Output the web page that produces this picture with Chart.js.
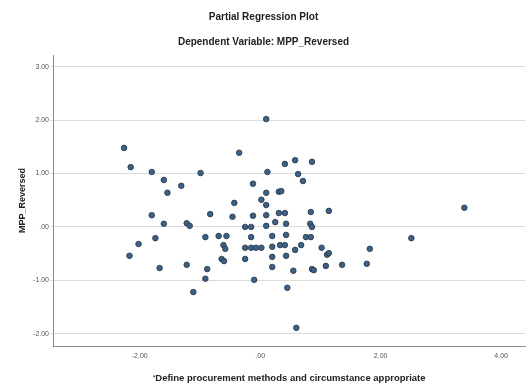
<!DOCTYPE html>
<html>
<head>
<meta charset="utf-8">
<script src="https://cdn.jsdelivr.net/npm/chart.js@4.4.1/dist/chart.umd.min.js"></script>
<style>
  html, body { margin: 0; padding: 0; background: #fff; }
  #wrap { width: 530px; height: 392px; position: relative; }
</style>
</head>
<body>
<div id="wrap"><canvas id="prp-chart"></canvas></div>
<script>
// residuals of the predictor (x) and of MPP_Reversed (y)
const xValues = [
    0.10, -2.26, -0.35, 0.58, 0.41, 0.86, -2.15, -1.80, -0.99, 0.12,
    0.63, -1.60, 0.71, -1.31, -0.12, -1.54, 0.10, 0.31, 0.35, 0.02,
    -0.43, 0.10, -1.80, -0.83, -0.46, -0.12, 0.10, 0.31, 0.41, 0.84,
    1.14, 3.39, -1.60, -1.22, -1.17, -0.25, -0.15, 0.10, 0.25, 0.43,
    0.83, 0.86, -1.74, -0.91, -0.69, -0.56, -0.15, 0.20, 0.43, 0.76,
    0.84, 2.51, -2.02, -0.61, -0.58, -0.25, -0.15, -0.07, 0.02, 0.20,
    0.33, 0.41, 0.58, 0.68, 1.02, 1.11, 1.14, 1.82, -2.17, -0.64,
    -0.60, -0.25, 0.20, 0.43, -1.67, -1.22, -0.88, 0.20, 0.55, 0.86,
    0.89, 1.09, 1.36, 1.77, -0.91, -0.10, 0.45, -1.11, 0.60
];
const yValues = [
    2.02, 1.48, 1.39, 1.25, 1.18, 1.22, 1.12, 1.03, 1.01, 1.03,
    0.99, 0.88, 0.86, 0.77, 0.81, 0.64, 0.64, 0.66, 0.67, 0.51,
    0.45, 0.41, 0.22, 0.24, 0.19, 0.21, 0.22, 0.26, 0.26, 0.28,
    0.30, 0.36, 0.06, 0.07, 0.02, 0.00, 0.00, 0.02, 0.09, 0.06,
    0.06, 0.00, -0.21, -0.19, -0.17, -0.17, -0.19, -0.17, -0.15, -0.19,
    -0.19, -0.21, -0.32, -0.34, -0.41, -0.39, -0.39, -0.39, -0.39, -0.37,
    -0.34, -0.34, -0.43, -0.34, -0.39, -0.52, -0.49, -0.41, -0.54, -0.60,
    -0.64, -0.60, -0.56, -0.54, -0.77, -0.71, -0.79, -0.75, -0.82, -0.79,
    -0.81, -0.73, -0.71, -0.69, -0.97, -0.99, -1.14, -1.22, -1.89
];
const xTicks = [-2, 0, 2, 4];
const yTicks = [-2, -1, 0, 1, 2, 3];

const chartTitle = 'Partial Regression Plot';
const chartSubtitle = 'Dependent Variable: MPP_Reversed';
const xTitle = '\u2018Define procurement methods and circumstance appropriate';
const yTitle = 'MPP_Reversed';

const fontFamily = '"Liberation Sans", Arial, sans-serif';

// SPSS style number labels: .00, 2.00, -1.00
function spssLabel(v) {
    return v.toFixed(2).replace(/^(-?)0\./, '$1.');
}

let points = [];
for (let i = 0; i < xValues.length; i++) {
    points.push({x: xValues[i], y: yValues[i]});
}

new Chart(document.querySelector('#prp-chart'), {
    type: 'scatter',
    data: {
        datasets: [{
            data: points,
            backgroundColor: '#3b6189',
            borderColor: '#29333f',
            borderWidth: 0.8,
            pointRadius: 2.8,
        }]
    },
    options: {
        responsive: true,
        maintainAspectRatio: false,
        animation: false,
        layout: {padding: {left: 0, right: 3, top: 0, bottom: 0}},
        plugins: {
            legend: {display: false},
            tooltip: {enabled: false},
            title: {
                display: true,
                text: chartTitle,
                color: '#222',
                font: {family: fontFamily, size: 10, weight: 'bold', lineHeight: 1.2},
                padding: {top: 11, bottom: 7},
            },
            subtitle: {
                display: true,
                text: chartSubtitle,
                color: '#222',
                font: {family: fontFamily, size: 10, weight: 'bold', lineHeight: 1.2},
                padding: {top: 6, bottom: 7},
            },
        },
        scales: {
            x: {
                type: 'linear',
                min: -3.44,
                max: 4.40,
                afterFit: (scale) => { scale.height = 46; },
                afterBuildTicks: (scale) => { scale.ticks = xTicks.map(v => ({value: v})); },
                grid: {display: false, drawTicks: false},
                border: {display: true, color: '#8c8c8c', width: 1},
                ticks: {
                    padding: 6,
                    color: '#555',
                    font: {family: fontFamily, size: 7},
                    callback: (v) => spssLabel(v),
                },
                title: {
                    display: true,
                    text: xTitle,
                    color: '#222',
                    font: {family: fontFamily, size: 9.5, weight: 'bold', lineHeight: 1.2},
                    padding: {top: 0, bottom: 8},
                },
            },
            y: {
                type: 'linear',
                min: -2.23,
                max: 3.22,
                afterFit: (scale) => { scale.width = 53; },
                afterBuildTicks: (scale) => { scale.ticks = yTicks.map(v => ({value: v})); },
                grid: {color: '#dcdcdc', lineWidth: 1, tickLength: 3},
                border: {display: true, color: '#8c8c8c', width: 1},
                ticks: {
                    padding: 1,
                    color: '#555',
                    font: {family: fontFamily, size: 7},
                    callback: (v) => spssLabel(v),
                },
                title: {
                    display: true,
                    text: yTitle,
                    color: '#222',
                    font: {family: fontFamily, size: 9, weight: 'bold', lineHeight: 1.2},
                    padding: {top: 17.5, bottom: 0},
                },
            },
        },
    },
});
</script>
</body>
</html>
